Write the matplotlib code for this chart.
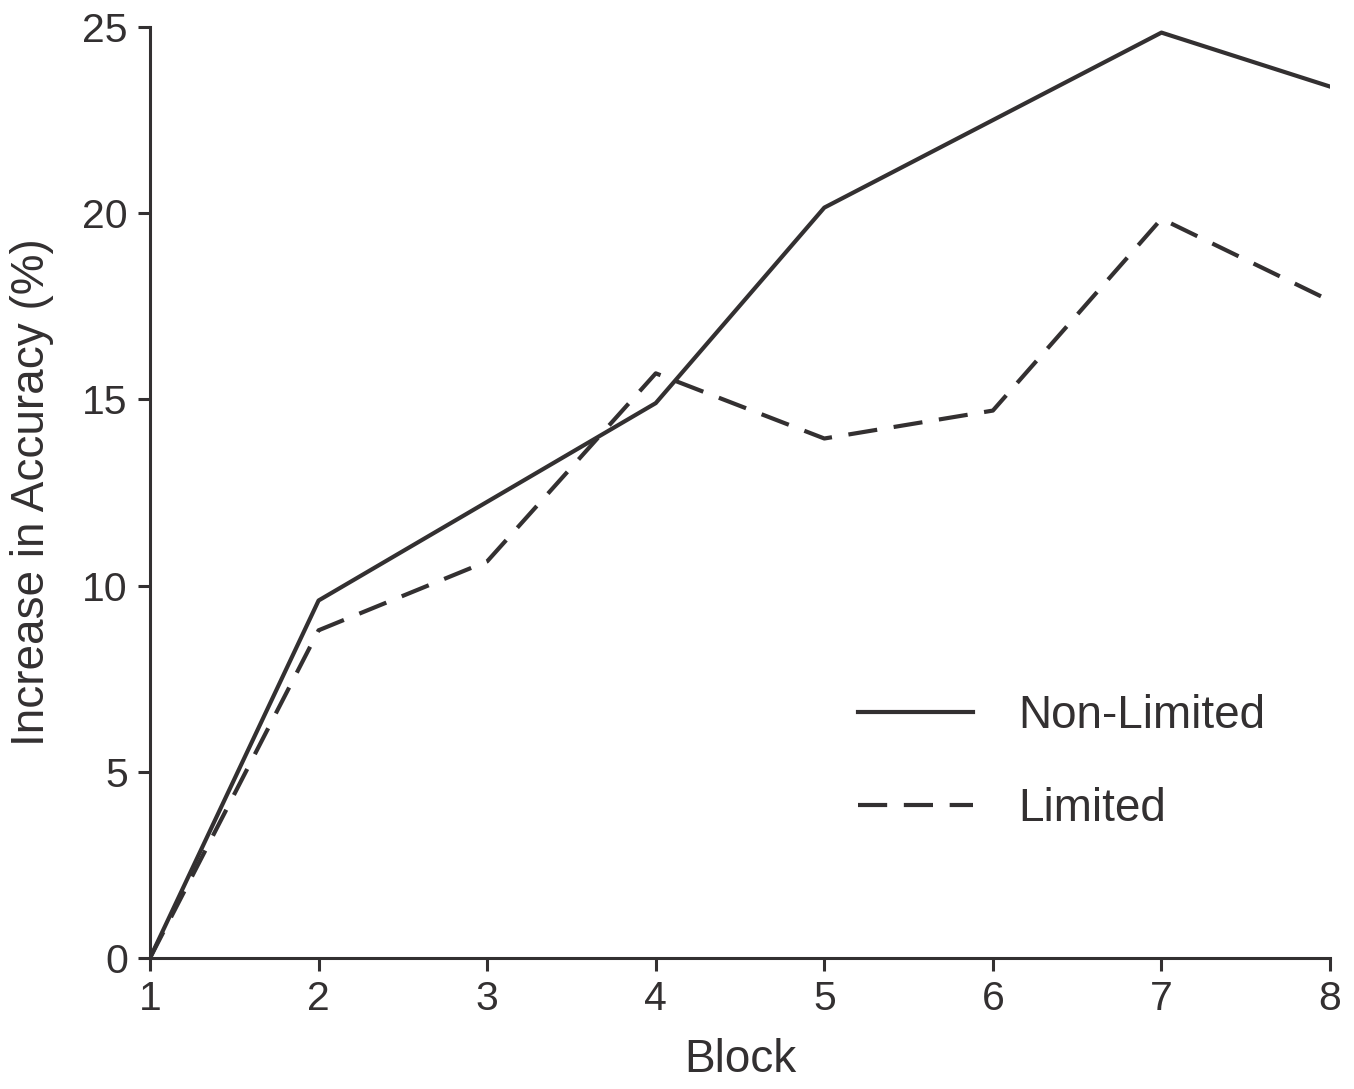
import matplotlib.pyplot as plt

# data
blocks = [1, 2, 3, 4, 5, 6, 7, 8]
non_limited = [0, 9.6, 12.25, 14.9, 20.15, 22.5, 24.85, 23.4]
limited = [0, 8.8, 10.65, 15.7, 13.95, 14.7, 19.85, 17.65]

plt.rcParams['font.family'] = ['Liberation Sans', 'DejaVu Sans']
ink = '#333031'

fig = plt.figure(figsize=(13.54, 10.89), dpi=100)
ax = fig.add_axes([0.1108, 0.1203, 0.8715, 0.8549])

ax.plot(blocks, non_limited, color=ink, lw=3, label='Non-Limited')
ax.plot(blocks, limited, color=ink, lw=3, linestyle=(0, (7, 4)), label='Limited')

ax.set_xlim(1, 8)
ax.set_ylim(0, 25)
ax.set_xticks(blocks)
ax.set_yticks([0, 5, 10, 15, 20, 25])

for s in ['top', 'right']:
    ax.spines[s].set_visible(False)
for s in ['left', 'bottom']:
    ax.spines[s].set_linewidth(2.2)
    ax.spines[s].set_color(ink)
    ax.spines[s].set_clip_on(False)

ax.tick_params(direction='out', length=9, width=2.2, color=ink,
               labelsize=29.5, labelcolor=ink, pad=7)

ax.set_xlabel('Block', fontsize=33, color=ink, labelpad=14)
ax.set_ylabel('Increase in Accuracy (%)', fontsize=33, color=ink, labelpad=20)

ax.legend(loc='center left', bbox_to_anchor=(0.6, 0.21), frameon=False,
          fontsize=33, handlelength=2.5, handletextpad=1.0, labelspacing=1.05,
          borderpad=0, borderaxespad=0, labelcolor=ink)

fig.savefig('out.png', dpi=100)
